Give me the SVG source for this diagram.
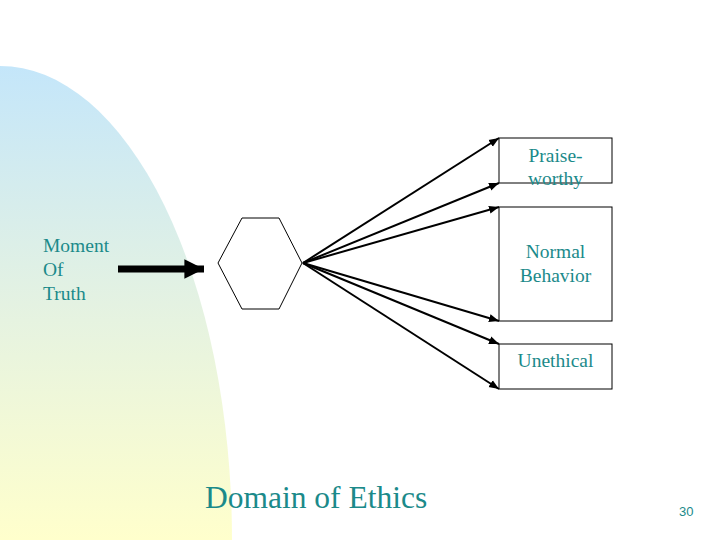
<svg xmlns="http://www.w3.org/2000/svg" width="720" height="540" viewBox="0 0 720 540">
<defs>
<linearGradient id="bg" x1="0" y1="0" x2="0" y2="1">
<stop offset="0" stop-color="#c4e6fa"/>
<stop offset="0.5" stop-color="#e4f2e2"/>
<stop offset="1" stop-color="#ffffcc"/>
</linearGradient>
<marker id="ah" viewBox="0 0 10 10" refX="10" refY="5" markerWidth="5" markerHeight="5" orient="auto" markerUnits="strokeWidth">
<path d="M0,1 L10,5 L0,9 z" fill="#000"/>
</marker>
<marker id="bh" viewBox="0 0 10 10" refX="10" refY="5" markerWidth="2.8" markerHeight="2.8" orient="auto" markerUnits="strokeWidth">
<path d="M0,0 L10,5 L0,10 z" fill="#000"/>
</marker>
<style>
.t{font-family:"Liberation Serif","Times New Roman",serif;font-size:19.5px;fill:#1b8a8a}
.box{fill:#fff;stroke:#000;stroke-width:1}
.c{stroke:#000;stroke-width:2;fill:none;marker-end:url(#ah)}
</style>
</defs>
<rect width="720" height="540" fill="#fff"/>
<path d="M0,66 A232,474 0 0 1 232,540 L0,540 Z" fill="url(#bg)"/>
<g id="connectors">
<line class="c" x1="303" y1="263" x2="499" y2="138"/>
<line class="c" x1="303" y1="263" x2="499" y2="183"/>
<line class="c" x1="303" y1="263" x2="499" y2="207"/>
<line class="c" x1="303" y1="263" x2="499" y2="321"/>
<line class="c" x1="303" y1="263" x2="499" y2="344"/>
<line class="c" x1="303" y1="263" x2="499" y2="389"/>
<line x1="118" y1="269" x2="204" y2="269" stroke="#000" stroke-width="7" marker-end="url(#bh)"/>
</g>
<g id="moment">
<text class="t" x="43" y="252">Moment</text>
<text class="t" x="43" y="276">Of</text>
<text class="t" x="43" y="300">Truth</text>
</g>
<g id="hexagon">
<polygon points="218,263 242,218 279,218 302,263 279,309 242,309" fill="#fff" stroke="#000" stroke-width="1"/>
</g>
<g id="praiseworthy">
<rect class="box" x="499" y="138" width="113" height="45"/>
<text class="t" x="555.5" y="162" text-anchor="middle">Praise-</text>
<text class="t" x="555.5" y="185" text-anchor="middle">worthy</text>
</g>
<g id="normal">
<rect class="box" x="499" y="207" width="113" height="114"/>
<text class="t" x="555.5" y="258" text-anchor="middle">Normal</text>
<text class="t" x="555.5" y="282" text-anchor="middle">Behavior</text>
</g>
<g id="unethical">
<rect class="box" x="499" y="344" width="113" height="45"/>
<text class="t" x="555.5" y="367" text-anchor="middle">Unethical</text>
</g>
<text x="205" y="508" font-family="Liberation Serif,'Times New Roman',serif" font-size="31.5" fill="#1b8a8a">Domain of Ethics</text>
<text x="679" y="516" font-family="Liberation Sans,Arial,sans-serif" font-size="13" fill="#1b8a8a">30</text>
</svg>
